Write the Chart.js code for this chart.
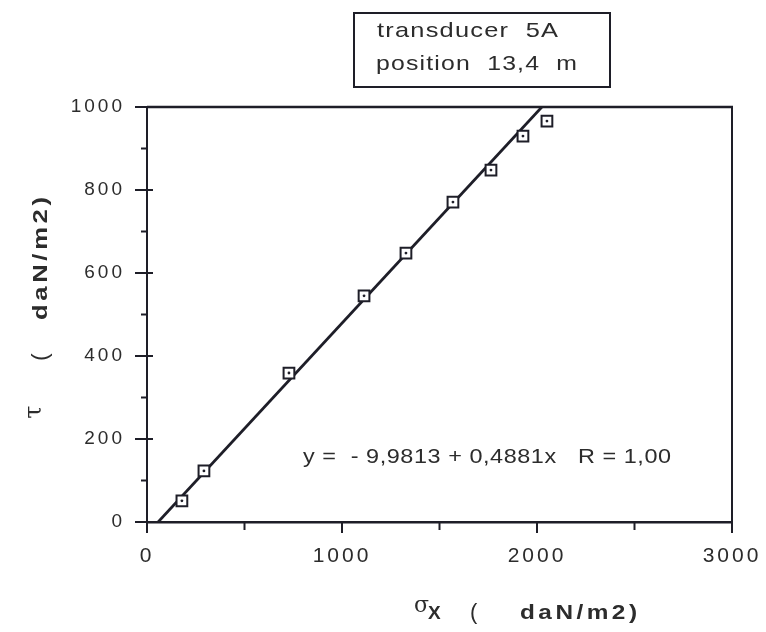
<!DOCTYPE html>
<html>
<head>
<meta charset="utf-8">
<script src="https://cdn.jsdelivr.net/npm/chart.js@4.4.1/dist/chart.umd.min.js"></script>
<style>
  html, body { margin: 0; padding: 0; background: #ffffff; }
  canvas { display: block; }
</style>
</head>
<body>
<canvas id="c" width="766" height="632"></canvas>
<script>
// ---- data ----
const sigmaX = [179, 292, 728, 1113, 1328, 1569, 1764, 1928, 2051];   // daN/m2
const tau    = [51, 123, 359, 545, 648, 771, 848, 930, 966];          // daN/m2
// regression line as drawn (end points)
const fitX = [57, 2025];
const fitY = [0, 1000];
// axes
const xTicks = [0, 1000, 2000, 3000];
const xMinor = [500, 1500, 2500];
const yTicks = [0, 200, 400, 600, 800, 1000];
const yMinor = [100, 300, 500, 700, 900];
// texts
const titleLines = ['transducer  5A', 'position  13,4  m'];
const equation = 'y =  - 9,9813 + 0,4881x   R = 1,00';

const INK = '#1e1e28';
const TXT = '#2c2c2c';

// draw text so that it spans `width` pixels: small letter spacing + horizontal stretch
function fitText(ctx, text, left, y, width, ls) {
  ls = ls || 0;
  ctx.letterSpacing = ls + 'px';
  ctx.textAlign = 'left';
  const w = ctx.measureText(text).width - ls;
  const sx = width / w;
  ctx.save();
  ctx.translate(left, y);
  ctx.scale(sx, 1);
  ctx.fillText(text, 0, 0);
  ctx.restore();
  ctx.letterSpacing = '0px';
}

const deco = {
  id: 'deco',
  beforeDraw(chart) {
    chart.ctx.letterSpacing = '3px';
  },
  beforeDatasetsDraw(chart) {
    const ctx = chart.ctx;
    ctx.letterSpacing = '0px';
    const a = chart.chartArea;
    const xs = chart.scales.x, ys = chart.scales.y;
    ctx.save();
    ctx.strokeStyle = INK;
    // top and right frame
    ctx.lineWidth = 2.5;
    ctx.beginPath(); ctx.moveTo(a.left, a.top); ctx.lineTo(a.right + 1, a.top); ctx.stroke();
    ctx.lineWidth = 2;
    ctx.beginPath(); ctx.moveTo(a.right, a.top); ctx.lineTo(a.right, a.bottom); ctx.stroke();
    // x ticks
    xTicks.forEach(v => {
      const p = xs.getPixelForValue(v);
      ctx.beginPath(); ctx.moveTo(p, a.bottom); ctx.lineTo(p, a.bottom + 11); ctx.stroke();
    });
    xMinor.forEach(v => {
      const p = xs.getPixelForValue(v);
      ctx.beginPath(); ctx.moveTo(p, a.bottom); ctx.lineTo(p, a.bottom + 8); ctx.stroke();
    });
    // y ticks
    yTicks.forEach(v => {
      const p = ys.getPixelForValue(v);
      ctx.beginPath(); ctx.moveTo(a.left - 12, p); ctx.lineTo(a.left + 6, p); ctx.stroke();
    });
    yMinor.forEach(v => {
      const p = ys.getPixelForValue(v);
      ctx.beginPath(); ctx.moveTo(a.left - 6, p); ctx.lineTo(a.left, p); ctx.stroke();
    });
    ctx.restore();
  },
  afterDraw(chart) {
    const ctx = chart.ctx;
    ctx.save();
    ctx.fillStyle = TXT;
    ctx.textBaseline = 'alphabetic';
    // title box
    ctx.strokeStyle = INK;
    ctx.lineWidth = 2;
    ctx.strokeRect(354, 13, 256, 74);
    ctx.font = '21px "Liberation Sans", Arial, sans-serif';
    fitText(ctx, titleLines[0], 377, 37, 181, 1);
    fitText(ctx, titleLines[1], 376, 70, 201, 1);
    // equation
    ctx.font = '21px "Liberation Sans", Arial, sans-serif';
    fitText(ctx, equation, 303, 463, 368, 0.5);
    // x axis title
    ctx.font = '22px "DejaVu Serif", "Liberation Serif", serif';
    ctx.textAlign = 'left';
    ctx.fillText('σ', 414, 612);
    ctx.font = 'bold 19px "Liberation Sans", Arial, sans-serif';
    ctx.fillText('X', 428, 619);
    ctx.font = '22px "Liberation Sans", Arial, sans-serif';
    ctx.fillText('(', 470, 619);
    ctx.font = 'bold 21px "Liberation Sans", Arial, sans-serif';
    fitText(ctx, 'daN/m2)', 520, 619, 117, 3);
    // y axis title (rotated)
    ctx.save();
    ctx.translate(39, 0);
    ctx.rotate(-Math.PI / 2);
    ctx.textBaseline = 'alphabetic';
    ctx.font = 'bold 21px "Liberation Sans", Arial, sans-serif';
    fitText(ctx, 'daN/m2)', -320, 8, 123, 3);
    ctx.font = '22px "Liberation Sans", Arial, sans-serif';
    ctx.textAlign = 'center';
    ctx.fillText('(', -357, 8);
    ctx.font = '24px "DejaVu Serif", "Liberation Serif", serif';
    ctx.fillText('τ', -412, 2);
    ctx.restore();
    ctx.restore();
  }
};

const pts = sigmaX.map((x, i) => ({ x, y: tau[i] }));
const line = fitX.map((x, i) => ({ x, y: fitY[i] }));

new Chart(document.getElementById('c'), {
  type: 'scatter',
  data: {
    datasets: [
      {
        data: line, showLine: true, borderColor: INK, borderWidth: 2.7,
        pointRadius: 0, order: 3, clip: false
      },
      {
        data: pts, pointStyle: 'rect', pointRadius: 7.6, borderWidth: 2,
        pointBorderColor: INK, pointBackgroundColor: '#ffffff', order: 2
      },
      {
        data: pts, pointStyle: 'circle', pointRadius: 1.4, borderWidth: 0,
        pointBackgroundColor: INK, order: 1
      }
    ]
  },
  options: {
    responsive: false,
    animation: false,
    devicePixelRatio: 1,
    layout: { padding: { top: 107, right: 34, left: 0, bottom: 0 } },
    plugins: { legend: { display: false }, tooltip: { enabled: false }, title: { display: false } },
    scales: {
      x: {
        type: 'linear', min: 0, max: 3000,
        afterBuildTicks: s => { s.ticks = xTicks.map(v => ({ value: v })); },
        afterFit: s => { s.height = 110; s.paddingLeft = 0; s.paddingRight = 0; },
        grid: { drawOnChartArea: false, drawTicks: false },
        border: { display: true, color: INK, width: 2.5 },
        ticks: {
          padding: 22, color: TXT,
          font: { family: '"Liberation Sans", Arial, sans-serif', size: 21 },
          maxRotation: 0, autoSkip: false,
          callback: v => String(v)
        }
      },
      y: {
        type: 'linear', min: 0, max: 1000,
        afterBuildTicks: s => { s.ticks = yTicks.map(v => ({ value: v })); },
        afterFit: s => { s.width = 147; s.paddingTop = 0; s.paddingBottom = 0; },
        grid: { drawOnChartArea: false, drawTicks: false },
        border: { display: true, color: INK, width: 2 },
        ticks: {
          padding: 22, color: TXT,
          font: { family: '"Liberation Sans", Arial, sans-serif', size: 19 },
          autoSkip: false,
          callback: v => String(v)
        }
      }
    }
  },
  plugins: [deco]
});
</script>
</body>
</html>
